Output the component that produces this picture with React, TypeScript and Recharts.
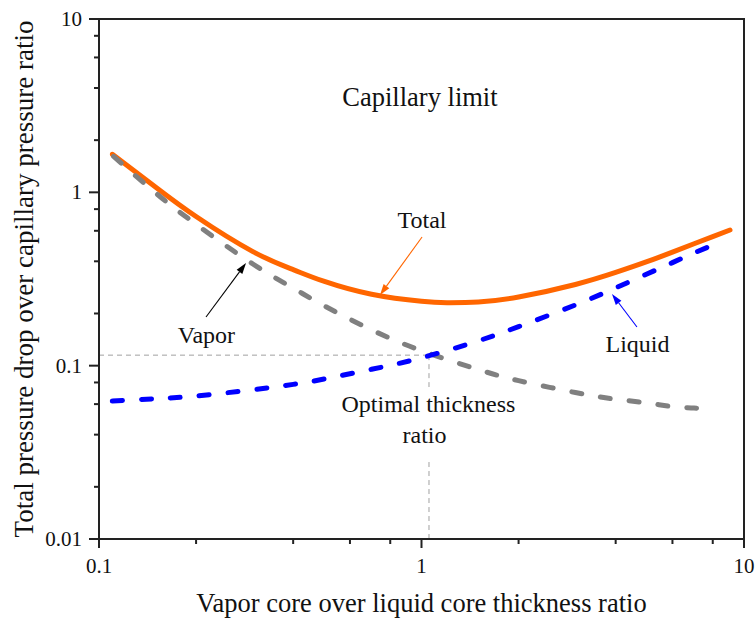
import React from 'react';
import { LineChart, Line, XAxis, YAxis, ReferenceLine, ReferenceDot, ReferenceArea } from 'recharts';

// ---- data ----
const totalX = [0.11, 0.15, 0.2, 0.3, 0.4, 0.5, 0.7, 1.0, 1.2, 1.5, 2, 3, 4, 5, 6, 7, 8, 9.05];
const totalY = [1.66, 1.07, 0.725, 0.455, 0.358, 0.306, 0.258, 0.235, 0.231, 0.233, 0.249, 0.294, 0.345, 0.398, 0.452, 0.505, 0.555, 0.606];

const vaporX = [0.111, 0.15, 0.2, 0.3, 0.4, 0.5, 0.7, 1.0, 1.5, 2, 3, 4, 5, 6, 7, 8.1];
const vaporY = [1.61, 0.99, 0.654, 0.386, 0.28, 0.221, 0.161, 0.122, 0.095, 0.082, 0.07, 0.064, 0.061, 0.058, 0.057, 0.0555];

const liquidX = [0.11, 0.15, 0.2, 0.3, 0.4, 0.5, 0.7, 1.0, 1.5, 2, 3, 4, 5, 6, 7, 8.3];
const liquidY = [0.0625, 0.0645, 0.0668, 0.0727, 0.078, 0.0838, 0.0953, 0.111, 0.139, 0.168, 0.224, 0.281, 0.338, 0.393, 0.447, 0.51];

const xTicks = [0.1, 0.2, 0.4, 0.6, 0.8, 1, 2, 4, 6, 8, 10];
const yTicks = [0.01, 0.02, 0.04, 0.06, 0.08, 0.1, 0.2, 0.4, 0.6, 0.8, 1, 2, 4, 6, 8, 10];
const xDomain = [0.1, 10];
const yDomain = [0.01, 10];

const optimumX = 1.055;
const optimumY = 0.115;
const guideGapTop = 0.0753;
const guideGapBottom = 0.0278;

const xTitle = 'Vapor core over liquid core thickness ratio';
const yTitle = 'Total pressure drop over capillary pressure ratio';

// annotations
const capText = { text: 'Capillary limit', x: 0.989, y: 3.15 };
const totalLabel = { text: 'Total', x: 1.004, y: 0.6225 };
const vaporLabel = { text: 'Vapor', x: 0.2154, y: 0.1351 };
const liquidLabel = { text: 'Liquid', x: 4.675, y: 0.1199 };
const optLabel1 = { text: 'Optimal thickness', x: 1.051, y: 0.054 };
const optLabel2 = { text: 'ratio', x: 1.0217, y: 0.0358 };

// arrows: from -> to
const totalArrow = { from: { x: 1.004, y: 0.5525 }, to: { x: 0.7436, y: 0.2557 } };
const vaporArrow = { from: { x: 0.2147, y: 0.1909 }, to: { x: 0.2857, y: 0.3912 } };
const liquidArrow = { from: { x: 4.657, y: 0.1671 }, to: { x: 3.896, y: 0.2591 } };

const totalData = totalX.map((x, i) => ({ x, y: totalY[i] }));
const vaporData = vaporX.map((x, i) => ({ x, y: vaporY[i] }));
const liquidData = liquidX.map((x, i) => ({ x, y: liquidY[i] }));

const FONT = '"Liberation Serif", "Times New Roman", serif';
const AXIS = '#222';

const isMajor = (v: number) => Math.abs(Math.log10(v) - Math.round(Math.log10(v))) < 1e-6;

const XTick = (props: any) => {
  const { x, y, payload } = props;
  const v = payload.value;
  const major = isMajor(v);
  return (
    <g>
      <line x1={x} x2={x} y1={y} y2={y + (major ? 9 : 5)} stroke={AXIS} strokeWidth={2} />
      {major && (
        <text x={x} y={y + 34} textAnchor="middle" fontFamily={FONT} fontSize={21} fill="#111">
          {String(v)}
        </text>
      )}
    </g>
  );
};

const YTick = (props: any) => {
  const { x, y, payload } = props;
  const v = payload.value;
  const major = isMajor(v);
  return (
    <g>
      <line x1={x} x2={x - (major ? 10 : 5)} y1={y} y2={y} stroke={AXIS} strokeWidth={2} />
      {major && (
        <text x={x - 17} y={y + 7} textAnchor="end" fontFamily={FONT} fontSize={21} fill="#111">
          {String(v)}
        </text>
      )}
    </g>
  );
};

const makeArrow = (color: string) => (props: any) => {
  const { x1, y1, x2, y2 } = props;
  const ang = Math.atan2(y2 - y1, x2 - x1);
  const L = 11;
  const W = 3.5;
  const bx = x2 - L * Math.cos(ang);
  const by = y2 - L * Math.sin(ang);
  const px = -Math.sin(ang) * W;
  const py = Math.cos(ang) * W;
  return (
    <g>
      <line x1={x1} y1={y1} x2={bx} y2={by} stroke={color} strokeWidth={1.1} />
      <polygon points={`${x2},${y2} ${bx + px},${by + py} ${bx - px},${by - py}`} fill={color} />
    </g>
  );
};

const makeText = (text: string, size: number) => (props: any) => (
  <text x={props.cx} y={props.cy} textAnchor="middle" fontFamily={FONT} fontSize={size} fill="#111">
    {text}
  </text>
);

const XTitle = (props: any) => {
  const vb = props.viewBox;
  return (
    <text x={vb.x + vb.width / 2} y={vb.y + 73} textAnchor="middle" fontFamily={FONT} fontSize={26.5} fill="#111">
      {xTitle}
    </text>
  );
};

const YTitle = (props: any) => {
  const vb = props.viewBox;
  const cx = vb.x + 33;
  const cy = vb.y + vb.height / 2;
  return (
    <text x={cx} y={cy} transform={`rotate(-90 ${cx} ${cy})`} textAnchor="middle" fontFamily={FONT} fontSize={27} fill="#111">
      {yTitle}
    </text>
  );
};

const guideStyle = { stroke: '#a0a0a0', strokeWidth: 1, strokeDasharray: '5 4' };

export default function App() {
  return (
    <div style={{ position: 'absolute', left: 0, top: 0, background: '#fff' }}>
      <LineChart width={756} height={618} margin={{ top: 19, right: 12, bottom: 0, left: 0 }}>
        <XAxis
          dataKey="x"
          type="number"
          scale="log"
          domain={xDomain}
          ticks={xTicks}
          interval={0}
          tickSize={0}
          tickMargin={0}
          tickLine={false}
          tick={<XTick />}
          height={79}
          axisLine={{ stroke: AXIS, strokeWidth: 2 }}
          allowDataOverflow
          label={<XTitle />}
        />
        <YAxis
          dataKey="y"
          type="number"
          scale="log"
          domain={yDomain}
          ticks={yTicks}
          interval={0}
          tickSize={0}
          tickMargin={0}
          tickLine={false}
          tick={<YTick />}
          width={99}
          axisLine={{ stroke: AXIS, strokeWidth: 2 }}
          allowDataOverflow
          label={<YTitle />}
        />
        <ReferenceArea x1={xDomain[0]} x2={xDomain[1]} y1={yDomain[0]} y2={yDomain[1]} fill="none" fillOpacity={0} stroke={AXIS} strokeWidth={2} ifOverflow="visible" />
        <ReferenceLine segment={[{ x: xDomain[0], y: optimumY }, { x: optimumX, y: optimumY }]} {...guideStyle} />
        <ReferenceLine segment={[{ x: optimumX, y: optimumY }, { x: optimumX, y: guideGapTop }]} {...guideStyle} />
        <ReferenceLine segment={[{ x: optimumX, y: guideGapBottom }, { x: optimumX, y: yDomain[0] }]} {...guideStyle} />

        <Line data={totalData} dataKey="y" type="natural" stroke="#FF6600" strokeWidth={5} dot={false} activeDot={false} isAnimationActive={false} strokeLinecap="round" />
        <Line data={vaporData} dataKey="y" type="natural" stroke="#808080" strokeWidth={5} strokeDasharray="10 19" strokeLinecap="round" dot={false} activeDot={false} isAnimationActive={false} />
        <Line data={liquidData} dataKey="y" type="natural" stroke="#0000FF" strokeWidth={5} strokeDasharray="10 19" strokeLinecap="round" dot={false} activeDot={false} isAnimationActive={false} />

        <ReferenceLine segment={[totalArrow.from, totalArrow.to]} shape={makeArrow('#FF6600')} />
        <ReferenceLine segment={[vaporArrow.from, vaporArrow.to]} shape={makeArrow('#000000')} />
        <ReferenceLine segment={[liquidArrow.from, liquidArrow.to]} shape={makeArrow('#0000FF')} />

        <ReferenceDot x={capText.x} y={capText.y} r={0} shape={makeText(capText.text, 26.5)} />
        <ReferenceDot x={totalLabel.x} y={totalLabel.y} r={0} shape={makeText(totalLabel.text, 24)} />
        <ReferenceDot x={vaporLabel.x} y={vaporLabel.y} r={0} shape={makeText(vaporLabel.text, 24)} />
        <ReferenceDot x={liquidLabel.x} y={liquidLabel.y} r={0} shape={makeText(liquidLabel.text, 24)} />
        <ReferenceDot x={optLabel1.x} y={optLabel1.y} r={0} shape={makeText(optLabel1.text, 24)} />
        <ReferenceDot x={optLabel2.x} y={optLabel2.y} r={0} shape={makeText(optLabel2.text, 24)} />
      </LineChart>
    </div>
  );
}
